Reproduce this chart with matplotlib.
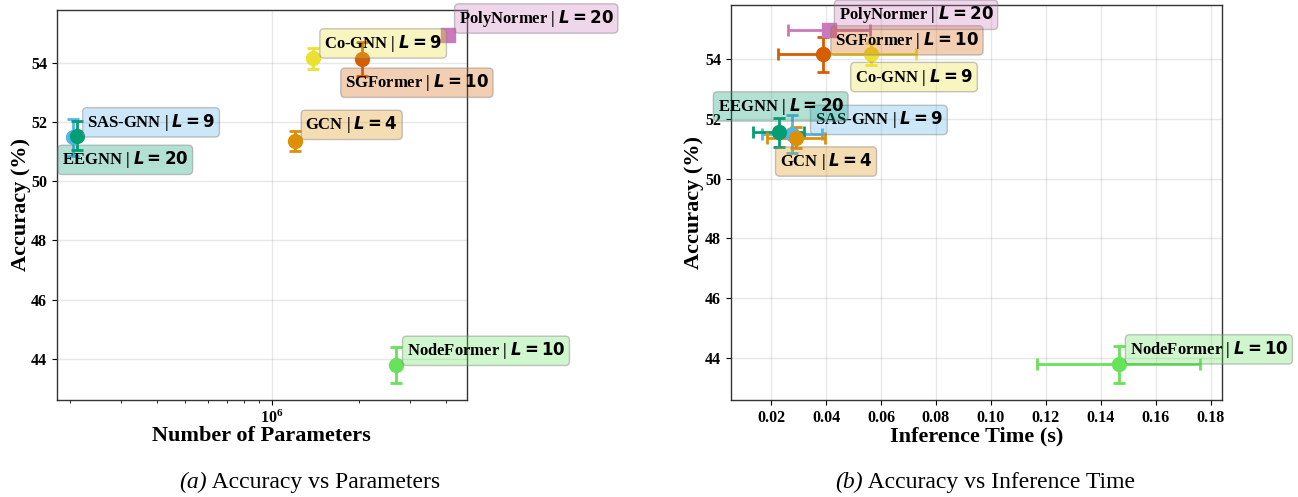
import numpy as np
import matplotlib
matplotlib.use("Agg")
import matplotlib.pyplot as plt
from matplotlib.colors import to_rgba

plt.rcParams['font.family'] = ['Liberation Serif', 'DejaVu Serif']
plt.rcParams['mathtext.fontset'] = 'dejavusans'

# model results
models = ['SAS-GNN', 'EEGNN', 'GCN', 'SGFormer', 'Co-GNN', 'PolyNormer', 'NodeFormer']
layers = [9, 20, 4, 10, 9, 20, 10]
acc = [51.49, 51.54, 51.37, 54.15, 54.16, 54.97, 43.79]
acc_std = [0.63, 0.49, 0.35, 0.58, 0.36, 0.10, 0.61]
n_params = [2.05e5, 2.12e5, 1.20e6, 2.05e6, 1.39e6, 4.08e6, 2.69e6]
inf_time = [0.0276, 0.0228, 0.0291, 0.0389, 0.0564, 0.0411, 0.1466]
inf_time_std = [0.0110, 0.0093, 0.0107, 0.0164, 0.0164, 0.0150, 0.0297]

colors = ['#56B4E9', '#029E73', '#DE8F05', '#D55E00', '#ECE133', '#CC78BC', '#66E35A']
markers = ['o', 'o', 'o', 'o', 'o', 's', 'o']

# label box centre offsets (pixels) from each point
offs_a = [(78, 15), (48, -24), (57, 16), (55, -24), (70, 15), (88, 16), (90, 14)]
offs_b = [(87, 14), (2, 26), (30, -24), (84, 14), (43, -23), (87, 15), (90, 15)]


def label_text(name, L):
    return name + " | " + r"$\boldsymbol{L = " + str(L) + "}$"


def style_axes(ax):
    for s in ax.spines.values():
        s.set_color('#333333')
        s.set_linewidth(1.0)
    ax.grid(True, which='major', color='#b0b0b0', alpha=0.3, linewidth=1.0)
    ax.tick_params(axis='both', which='major', labelsize=11.5, length=3.5, width=0.8)
    ax.tick_params(axis='both', which='minor', length=2, width=0.6)
    for t in ax.get_xticklabels() + ax.get_yticklabels():
        t.set_fontweight('bold')
    ax.set_ylim(42.6, 55.8)
    ax.set_yticks([44, 46, 48, 50, 52, 54])


def add_labels(ax, xs, offs):
    for i in range(len(models)):
        ax.annotate(label_text(models[i], layers[i]), (xs[i], acc[i]),
                    xytext=offs[i], textcoords='offset pixels',
                    ha='center', va='center', fontsize=12, fontweight='bold',
                    bbox=dict(boxstyle='round,pad=0.25', fc=to_rgba(colors[i], 0.3),
                              ec=(0.5, 0.5, 0.5, 0.45), lw=1.0))


fig = plt.figure(figsize=(12.98, 4.97), dpi=100)
ax1 = fig.add_axes([0.0437, 0.1952, 0.3159, 0.7847])
ax2 = fig.add_axes([0.5629, 0.1952, 0.3787, 0.7948])

# (a) accuracy vs parameters
for i in range(len(models)):
    ax1.errorbar(n_params[i], acc[i], yerr=acc_std[i], fmt=markers[i], color=colors[i],
                 markersize=10, elinewidth=2, capsize=4, capthick=2)
ax1.set_xscale('log')
ax1.set_xlim(1.80e5, 4.73e6)
style_axes(ax1)
add_labels(ax1, n_params, offs_a)
ax1.set_xlabel('Number of Parameters', fontsize=16, fontweight='bold')
ax1.set_ylabel('Accuracy (%)', fontsize=16, fontweight='bold')
ax1.xaxis.set_label_coords(0.5, -0.066)
ax1.yaxis.set_label_coords(-0.063, 0.5)

# (b) accuracy vs inference time
for i in range(len(models)):
    ax2.errorbar(inf_time[i], acc[i], xerr=inf_time_std[i], yerr=acc_std[i], fmt=markers[i],
                 color=colors[i], markersize=10, elinewidth=2, capsize=4, capthick=2)
ax2.set_xlim(0.0053, 0.1842)
ax2.set_xticks(np.arange(0.02, 0.181, 0.02))
ax2.set_xticklabels(['%.2f' % v for v in np.arange(0.02, 0.181, 0.02)])
style_axes(ax2)
add_labels(ax2, inf_time, offs_b)
ax2.set_xlabel('Inference Time (s)', fontsize=16, fontweight='bold')
ax2.set_ylabel('Accuracy (%)', fontsize=16, fontweight='bold')
ax2.xaxis.set_label_coords(0.5, -0.066)
ax2.yaxis.set_label_coords(-0.055, 0.5)

# sub-captions, "(a)" in italics
fig.canvas.draw()
r = fig.canvas.get_renderer()
for tag, rest, cx in [('(a)', ' Accuracy vs Parameters', 310), ('(b)', ' Accuracy vs Inference Time', 985)]:
    t1 = fig.text(0, 0.030, tag, fontsize=17, style='italic', ha='left', va='center')
    t2 = fig.text(0, 0.030, rest, fontsize=17, ha='left', va='center')
    w1 = t1.get_window_extent(r).width
    w2 = t2.get_window_extent(r).width
    x0 = cx - (w1 + w2) / 2
    t1.set_x(x0 / 1298)
    t2.set_x((x0 + w1) / 1298)

fig.savefig('out.png', dpi=100)
